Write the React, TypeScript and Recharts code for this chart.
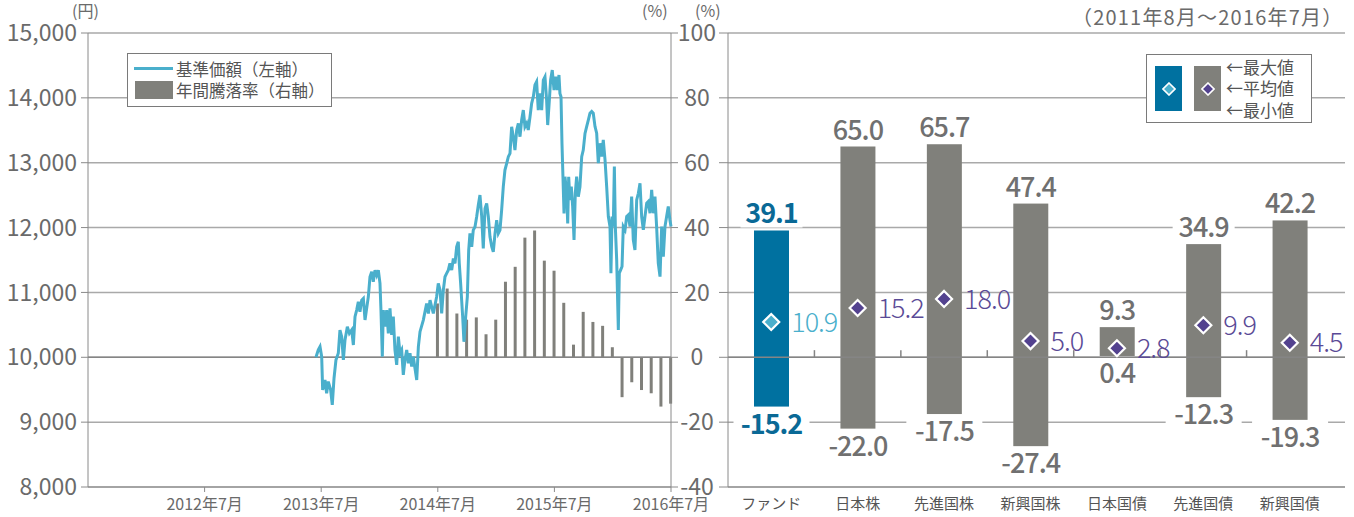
import {
	Bar,
	CartesianGrid,
	ComposedChart,
	Line,
	LineChart,
	ReferenceLine,
	Scatter,
	XAxis,
	YAxis,
} from 'recharts';

// left panel: NAV (months after 2011/07) and yearly return bars
const navMonth = [
	23.46, 23.7, 23.88, 24.05, 24.15, 24.39, 24.56, 24.73, 24.97, 25.14,
	25.32, 25.52, 25.76, 25.93, 26.11, 26.28, 26.45, 26.69, 26.9, 27.14,
	27.31, 27.48, 27.65, 27.82, 27.99, 28.17, 28.34, 28.51, 28.68, 28.85,
	29.02, 29.2, 29.36, 29.54, 29.71, 29.88, 30.05, 30.15, 30.29, 30.39,
	30.56, 30.74, 30.91, 31.08, 31.25, 31.42, 31.59, 31.77, 31.94, 32.11,
	32.28, 32.45, 32.62, 32.8, 32.97, 33.14, 33.31, 33.48, 33.65, 33.83,
	34.0, 34.17, 34.51, 34.85, 35.03, 35.2, 35.37, 35.54, 35.88, 36.05,
	36.23, 36.4, 36.57, 36.74, 36.91, 37.08, 37.25, 37.43, 37.6, 37.77,
	37.94, 38.11, 38.21, 38.35, 38.56, 38.69, 38.87, 39.04, 39.18, 39.31,
	39.49, 39.65, 39.83, 40.0, 40.17, 40.34, 40.52, 40.68, 40.86, 41.03,
	41.2, 41.37, 41.55, 41.71, 41.89, 42.06, 42.23, 42.4, 42.57, 42.74,
	42.91, 43.09, 43.26, 43.43, 43.6, 43.77, 43.94, 44.12, 44.29, 44.46,
	44.63, 44.8, 44.97, 45.15, 45.31, 45.49, 45.66, 45.83, 46.0, 46.17,
	46.34, 46.52, 46.69, 46.86, 47.03, 47.2, 47.31, 47.48, 47.61, 47.78,
	47.96, 48.13, 48.3, 48.47, 48.57, 48.68, 48.78, 48.88, 48.99, 49.09,
	49.26, 49.37, 49.47, 49.6, 49.74, 49.88, 50.02, 50.15, 50.29, 50.46,
	50.63, 50.81, 50.97, 51.15, 51.32, 51.49, 51.66, 51.84, 52.0, 52.18,
	52.35, 52.52, 52.69, 52.86, 53.03, 53.21, 53.38, 53.55, 53.72, 53.82,
	53.93, 54.06, 54.17, 54.27, 54.41, 54.58, 54.68, 54.82, 54.96, 55.09,
	55.27, 55.44, 55.61, 55.78, 55.95, 56.12, 56.29, 56.47, 56.64, 56.81,
	56.98, 57.15, 57.32, 57.5, 57.66, 57.84, 58.01, 58.18, 58.35, 58.52,
	58.69, 58.87, 59.04, 59.21, 59.38, 59.55, 59.72, 59.89, 60.0,
];

const navPrice = [
	10000, 10113, 10164, 10010, 9497, 9650, 9446, 9626, 9497, 9267,
	9677, 9959, 10062, 10420, 10318, 9959, 10267, 10472, 10369, 10421,
	10190, 10626, 10728, 10856, 10703, 10882, 10908, 10575, 10754, 10933,
	11241, 11318, 11164, 11344, 11267, 11344, 11139, 10728, 10010, 10728,
	10472, 10728, 10369, 10754, 10344, 10626, 10113, 9882, 10318, 10062,
	10113, 9728, 9959, 10113, 9908, 10062, 9856, 10010, 9831, 9651,
	10164, 10395, 10573, 10830, 10676, 10882, 10779, 10676, 10933, 11139,
	11036, 10676, 11036, 11242, 11293, 11344, 11447, 11344, 11524, 11447,
	11704, 11781, 11447, 11139, 10625, 10239, 10625, 10933, 11653, 11910,
	11704, 11961, 12013, 12167, 12347, 12501, 12167, 11678, 12295, 12372,
	12167, 11858, 11704, 11627, 11910, 12115, 11910, 11961, 12270, 12630,
	12887, 12990, 13093, 13144, 13555, 13401, 13195, 13504, 13607, 13401,
	13658, 13812, 13555, 13607, 13504, 13709, 13915, 14018, 14198, 14249,
	13812, 14069, 13812, 14275, 14326, 13966, 13581, 13966, 14275, 14429,
	14120, 14326, 14120, 14352, 14069, 14018, 13298, 12784, 12219, 12784,
	12527, 12065, 12784, 12424, 12630, 12322, 11808, 12527, 12784, 12476,
	12630, 13093, 13195, 13452, 13555, 13658, 13761, 13789, 13763, 13557,
	13455, 12992, 13300, 13095, 13352, 13043, 12632, 12170, 12015, 11296,
	12170, 12015, 12941, 12015, 11501, 10422, 11296, 11347, 11399, 12015,
	11964, 12170, 12195, 12015, 12478, 11810, 11656, 12427, 12529, 12684,
	12170, 11964, 12170, 12375, 12401, 12221, 12581, 12221, 12478, 12015,
	11450, 11244, 12015, 11553, 12015, 12170, 12324, 12118, 12015,
];

const retMonth = [
	36, 37, 38, 39, 40, 41, 42, 43, 44, 45, 46, 47, 48,
	49, 50, 51, 52, 53, 54, 55, 56, 57, 58, 59, 60,
];
const retValue = [
	16.6, 21.2, 13.5, 11.6, 12.3, 7.1, 11.6, 23.3, 27.9, 36.9, 39.1, 29.8, 26.7,
	16.8, 3.9, 14.0, 10.9, 9.7, 3.1, -12.3, -7.7, -10.1, -11.1, -15.2, -14.3,
];

const xTickMonths = [12, 24, 36, 48, 60];
const xTickLabels = ['2012年7月', '2013年7月', '2014年7月', '2015年7月', '2016年7月'];
const priceTicks = [8000, 9000, 10000, 11000, 12000, 13000, 14000, 15000];
const pctTicks = [-40, -20, 0, 20, 40, 60, 80, 100];

// right panel: return ranges by asset class
const assetNames = ['ファンド', '日本株', '先進国株', '新興国株', '日本国債', '先進国債', '新興国債'];
const maxValues = [39.1, 65.0, 65.7, 47.4, 9.3, 34.9, 42.2];
const avgValues = [10.9, 15.2, 18.0, 5.0, 2.8, 9.9, 4.5];
const minValues = [-15.2, -22.0, -17.5, -27.4, 0.4, -12.3, -19.3];

const FONT = '"Noto Sans CJK JP", "Noto Sans", sans-serif';
const GRID = '#a9a9a9';
const AXIS = '#8a8a8a';
const TEXT = '#6a6a6a';
const NAV_BLUE = '#4aafcc';
const BAR_GRAY = '#80807b';
const FUND_BLUE = '#0071a0';
const FUND_LABEL = '#0a6996';
const GRAY_LABEL = '#707070';
const AVG_PURPLE = '#5a4a96';
const DIAMOND_PURPLE = '#53428f';

const navData = navMonth.map((m, i) => ({ m, p: navPrice[i] }));
const retData = retMonth.map((m, i) => ({ m, r: retValue[i] }));
const assetData = assetNames.map((name, i) => ({
	name,
	range: [minValues[i], maxValues[i]],
	max: maxValues[i],
	min: minValues[i],
	avg: avgValues[i],
}));

const fmt = (v: number) => v.toFixed(1);

function RangeBar(props: any) {
	const { x, y, width, height, payload, index } = props;
	const isFund = index === 0;
	const top = Math.min(y, y + height);
	const bottom = Math.max(y, y + height);
	const cx = x + width / 2;
	const color = isFund ? FUND_LABEL : GRAY_LABEL;
	const maxText = fmt(payload.max);
	const minText = fmt(payload.min);
	const boxW = (t: string) => t.length * 14 + 6;
	const maxBase = top - 7;
	const minBase = bottom + 27;
	return (
		<g>
			<rect x={x} y={top} width={width} height={bottom - top} fill={isFund ? FUND_BLUE : BAR_GRAY} />
			<rect x={cx - boxW(maxText) / 2} y={maxBase - 24} width={boxW(maxText)} height={28} fill="#fff" />
			<text x={cx} y={maxBase} textAnchor="middle" fontSize={27} letterSpacing={-1} fontWeight={isFund ? 700 : 500} fill={color}>
				{maxText}
			</text>
			<rect x={cx - boxW(minText) / 2} y={minBase - 26} width={boxW(minText)} height={30} fill="#fff" />
			<text x={cx} y={minBase} textAnchor="middle" fontSize={27} letterSpacing={-1} fontWeight={isFund ? 700 : 500} fill={color}>
				{minText}
			</text>
		</g>
	);
}

function AvgMarker(props: any) {
	const { cx, cy, payload, index } = props;
	const isFund = index === 0;
	const r = 8;
	return (
		<g>
			<path
				d={`M${cx},${cy - r} L${cx + r},${cy} L${cx},${cy + r} L${cx - r},${cy} Z`}
				fill={isFund ? NAV_BLUE : DIAMOND_PURPLE}
				stroke="#fff"
				strokeWidth={2.2}
			/>
			<text x={cx + 20} y={cy} dy="0.36em" fontSize={27} letterSpacing={-1} fontWeight={300} fill={isFund ? NAV_BLUE : AVG_PURPLE}>
				{fmt(payload.avg)}
			</text>
		</g>
	);
}

function Diamond({ fill }: { fill: string }) {
	return (
		<svg width={14} height={14} style={{ display: 'block' }}>
			<path d="M7,1 L13,7 L7,13 L1,7 Z" fill={fill} stroke="#fff" strokeWidth={1.6} />
		</svg>
	);
}

const abs = (left: number, top: number, extra: any = {}) => ({
	position: 'absolute' as const,
	left,
	top,
	...extra,
});

export default function App() {
	return (
		<div style={{ position: 'absolute', left: 0, top: 0, width: 1354, height: 517, fontFamily: FONT, background: '#fff' }}>
			{/* left panel: grid, x axis, right axis and bars */}
			<div style={abs(0, 0)}>
				<ComposedChart width={720} height={517} data={retData} margin={{ top: 33, right: 0, bottom: 0, left: 88 }}>
					<CartesianGrid yAxisId="ret" vertical={false} stroke={GRID} strokeWidth={1.5} />
					<XAxis
						type="number"
						dataKey="m"
						domain={[0, 60]}
						ticks={xTickMonths}
						tickFormatter={(v: number) => xTickLabels[xTickMonths.indexOf(v)] ?? ''}
						height={30}
						tickSize={5}
						tickMargin={7}
						stroke={AXIS}
						tick={{ fontSize: 16, fill: TEXT }}
					/>
					<YAxis
						yAxisId="ret"
						orientation="right"
						domain={[-40, 100]}
						ticks={pctTicks}
						width={49}
						tickSize={7}
						tickMargin={19}
						stroke={AXIS}
						tick={{ fontSize: 23, fill: TEXT, textAnchor: 'middle' }}
					/>
					<ReferenceLine yAxisId="ret" y={0} stroke="#858585" strokeWidth={1.5} />
					<Bar yAxisId="ret" dataKey="r" fill={BAR_GRAY} barSize={3} isAnimationActive={false} />
				</ComposedChart>
			</div>
			{/* left panel: price axis and NAV line */}
			<div style={abs(0, 0)}>
				<LineChart width={720} height={517} data={navData} margin={{ top: 33, right: 49, bottom: 30, left: 0 }}>
					<XAxis type="number" dataKey="m" domain={[0, 60]} hide />
					<YAxis
						domain={[8000, 15000]}
						ticks={priceTicks}
						tickFormatter={(v: number) => v.toLocaleString('en-US')}
						width={88}
						tickSize={7}
						tickMargin={4}
						stroke={AXIS}
						tick={{ fontSize: 23, fill: TEXT }}
					/>
					<Line type="linear" dataKey="p" stroke={NAV_BLUE} strokeWidth={3} dot={false} isAnimationActive={false} />
				</LineChart>
			</div>

			{/* right panel */}
			<div style={abs(690, 0)}>
				<ComposedChart width={664} height={517} data={assetData} margin={{ top: 33, right: 9, bottom: 0, left: 0 }}>
					<CartesianGrid vertical={false} stroke={GRID} strokeWidth={1.5} />
					<XAxis
						dataKey="name"
						height={30}
						padding={{ left: 0, right: 12 }}
						interval={0}
						tickLine={false}
						tickSize={7}
						tickMargin={4}
						stroke={AXIS}
						tick={{ fontSize: 15, fill: '#555' }}
					/>
					<YAxis
						domain={[-40, 100]}
						ticks={pctTicks}
						width={38}
						tickSize={9}
						tickFormatter={() => ''}
						stroke={AXIS}
					/>
					<ReferenceLine y={0} stroke="#858585" strokeWidth={1.5} />
					{assetNames.slice(1).map((n) => (
						<ReferenceLine
							key={n}
							position="start"
							segment={[{ x: n, y: 0 }, { x: n, y: 2.2 }]}
							stroke="#858585"
							strokeWidth={1.5}
						/>
					))}
					<Bar dataKey="range" barSize={35} shape={RangeBar} isAnimationActive={false} />
					<Scatter dataKey="avg" shape={AvgMarker} isAnimationActive={false} />
				</ComposedChart>
			</div>

			{/* units and period */}
			<div style={abs(72, 0, { fontSize: 16, lineHeight: '20px', color: TEXT })}>(円)</div>
			<div style={abs(642, 0, { fontSize: 16, lineHeight: '20px', color: TEXT })}>(%)</div>
			<div style={abs(695, 0, { fontSize: 16, lineHeight: '20px', color: TEXT })}>(%)</div>
			<div style={abs(1072, 4, { fontSize: 20, lineHeight: '26px', letterSpacing: 1.2, color: TEXT, whiteSpace: 'nowrap' })}>（2011年8月〜2016年7月）</div>

			{/* left legend */}
			<div style={abs(127, 53, { width: 205, height: 54, boxSizing: 'border-box', border: '1.5px solid #7a7a7a', background: '#fff' })} />
			<div style={abs(134, 67, { width: 39, height: 3, background: NAV_BLUE })} />
			<div style={abs(135, 81, { width: 38, height: 18, background: BAR_GRAY })} />
			<div style={abs(176, 60, { fontSize: 16.5, lineHeight: '18px', color: '#555', whiteSpace: 'nowrap' })}>基準価額（左軸）</div>
			<div style={abs(176, 81, { fontSize: 16.5, lineHeight: '18px', color: '#555', whiteSpace: 'nowrap' })}>年間騰落率（右軸）</div>

			{/* right legend */}
			<div style={abs(1146, 54, { width: 166, height: 69, boxSizing: 'border-box', border: '1.5px solid #7a7a7a', background: '#fff' })} />
			<div style={abs(1155, 66, { width: 27, height: 45, background: FUND_BLUE, display: 'flex', alignItems: 'center', justifyContent: 'center' })}>
				<Diamond fill={NAV_BLUE} />
			</div>
			<div style={abs(1194, 66, { width: 27, height: 45, background: BAR_GRAY, display: 'flex', alignItems: 'center', justifyContent: 'center' })}>
				<Diamond fill={DIAMOND_PURPLE} />
			</div>
			<div style={abs(1226, 58, { fontSize: 17, lineHeight: '18px', color: '#555', whiteSpace: 'nowrap' })}>←最大値</div>
			<div style={abs(1226, 79, { fontSize: 17, lineHeight: '18px', color: '#555', whiteSpace: 'nowrap' })}>←平均値</div>
			<div style={abs(1226, 101, { fontSize: 17, lineHeight: '18px', color: '#555', whiteSpace: 'nowrap' })}>←最小値</div>
		</div>
	);
}
